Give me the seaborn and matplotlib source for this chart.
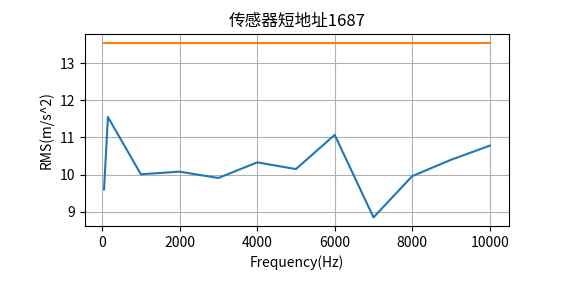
import matplotlib
matplotlib.use("Agg")
import matplotlib.pyplot as plt
import seaborn as sns
import pandas as pd

freq = [50, 150, 1000, 2000, 3000, 4000, 5000, 6000, 7000, 8000, 9000, 10000]
rms = [9.60, 11.55, 10.01, 10.08, 9.91, 10.33, 10.15, 11.07, 8.85, 9.96, 10.40, 10.78]
limit_freq = [50, 10000]
limit_rms = [13.55, 13.55]

title = "传感器短地址1687"
xlabel = "Frequency(Hz)"
ylabel = "RMS(m/s^2)"

plt.rcParams['font.family'] = ['Noto Sans CJK SC', 'DejaVu Sans']
plt.rcParams['axes.unicode_minus'] = False

fig = plt.figure(figsize=(5.65, 2.83), dpi=100)
ax = fig.add_axes([0.150, 0.201, 0.751, 0.679])

df = pd.DataFrame({"freq": freq, "rms": rms})
lim = pd.DataFrame({"freq": limit_freq, "rms": limit_rms})
sns.lineplot(data=df, x="freq", y="rms", ax=ax, color="#1f77b4", linewidth=1.5)
sns.lineplot(data=lim, x="freq", y="rms", ax=ax, color="#ff7f0e", linewidth=1.5)

ax.grid(True, color="#b0b0b0", linewidth=0.8)
ax.set_axisbelow(True)
ax.set_title(title, fontsize=12)
ax.set_xlabel(xlabel, fontsize=10)
ax.set_ylabel(ylabel, fontsize=10)
ax.set_xticks([0, 2000, 4000, 6000, 8000, 10000])
ax.set_yticks([9, 10, 11, 12, 13])
ax.tick_params(labelsize=10)

fig.savefig("out.png", dpi=100)
